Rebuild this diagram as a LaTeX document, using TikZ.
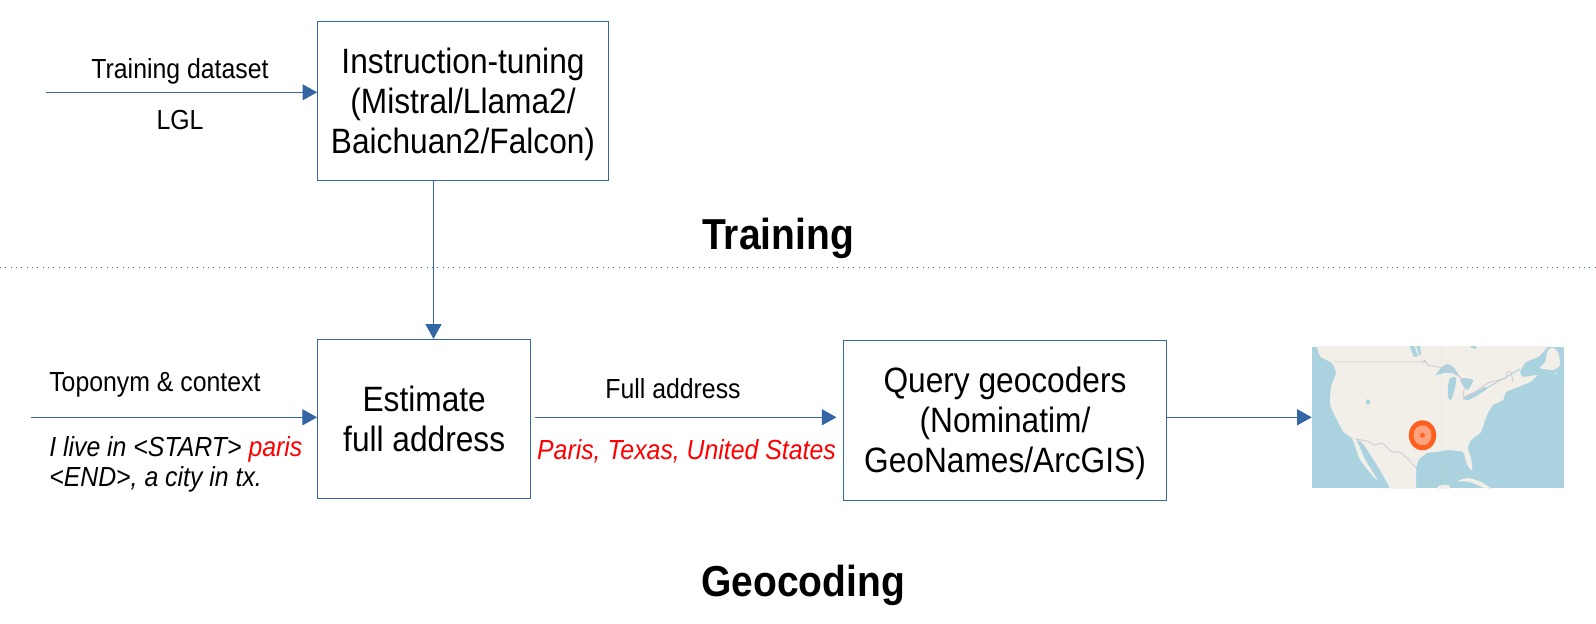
\documentclass[tikz,border=0pt]{standalone}
\usepackage{fontspec}
\setmainfont{Liberation Sans}[FakeStretch=0.9]
\usetikzlibrary{arrows.meta}
\definecolor{lineblue}{HTML}{3465A4}
\definecolor{maproad}{HTML}{D6C6D2}
\definecolor{water}{HTML}{AAD3DF}
\definecolor{land}{HTML}{F2EFE9}
\definecolor{markerout}{HTML}{FF5F1F}
\definecolor{markerin}{HTML}{FFA27E}
\newcommand{\firstlift}[1]{\rule{0pt}{#1}}
\tikzset{
  boxnode/.style={draw=lineblue,line width=0.75pt,fill=white,inner sep=0pt,align=center,
    font=\fontsize{26.4}{30}\selectfont},
  flow/.style={draw=lineblue,line width=0.9pt,-{Triangle[length=11pt,width=12pt]}},
  smalltext/.style={inner sep=0pt,font=\fontsize{20.7}{22.5}\selectfont},
  smallit/.style={inner sep=0pt,align=left,font=\fontsize{20.7}{22.5}\selectfont\itshape},
  heading/.style={inner sep=0pt,font=\fontsize{32.5}{38}\selectfont\bfseries},
  border/.style={draw=maproad,line width=0.6pt},
}
\begin{document}
\begin{tikzpicture}[x=0.75pt,y=-0.75pt]
\useasboundingbox (0,0) rectangle (1596,624);
% separator
\draw[lineblue,line width=0.6pt,dash pattern=on 0.8pt off 3.2pt] (0,267.3) -- (1596,267.3);
% boxes
\node[boxnode,minimum width=218pt,minimum height=119pt] (tune) at (463,101) {\firstlift{23.5pt}Instruction-tuning\\(Mistral/Llama2/\\Baichuan2/Falcon)};
\node[boxnode,minimum width=160pt,minimum height=119.5pt] (est) at (424.2,419) {Estimate\\full address};
\node[boxnode,minimum width=242.25pt,minimum height=120pt] (query) at (1005,420.5) {\firstlift{24.2pt}Query geocoders\\(Nominatim/\\GeoNames/ArcGIS)};
% map
\node[fill=water,draw=none,inner sep=0pt,minimum width=189pt,minimum height=105.75pt] (map) at (1438,417.5) {};
\begin{scope}
\clip (map.south west) rectangle (map.north east);
\fill[land] plot[smooth,tension=0.35] coordinates {(1315,340) (1317,347) (1320.3,356.7) (1332,363) (1336,373) (1331,387) (1330.3,405) (1337,420) (1343.7,432) (1353.7,439)
 (1360,441) (1364,445) (1375,462) (1384,477) (1392,492)}
 -- (1416,492) -- plot[smooth,tension=0.35] coordinates {(1416,468) (1418.7,460) (1427,453) (1438,452) (1448,450) (1463,452) (1466,462) (1470.7,470) (1472.3,468) (1471,458) (1468,448) (1471,440) (1481,432) (1486,417) (1493,405) (1503,400) (1506,392) (1518,387) (1530,382) (1537,375) (1523,377) (1520,372) (1526,362) (1538,357) (1545,350) (1552,342)}
 -- (1315,340) -- cycle;
% Baja
\fill[land] plot[smooth,tension=0.35] coordinates {(1352,439) (1353.7,442) (1360.3,460) (1373.7,477) (1377,479) (1365.3,460) (1358.7,445) (1356,439)} -- cycle;
% Newfoundland
\fill[land] plot[smooth cycle,tension=0.4] coordinates {(1548,350) (1553,348) (1558,352) (1560,365) (1553,370) (1540,368) (1545,362)};
\fill[land] (1556,373) circle[radius=1];
% Hudson Bay and inland water
\fill[water] (1471,344) -- (1476,344) -- (1476,349) -- (1471,348) -- cycle;
\fill[water] (1409,345) -- (1414,345) -- (1418,356) -- (1414,357) -- cycle;
\fill[water] (1416,345) -- (1420,345) -- (1421,355) -- (1419,355) -- cycle;
\fill[water] (1368,402) ellipse[x radius=2,y radius=2.8];
\fill[water] (1424.5,361) circle[radius=1.3];
% Great Lakes
\fill[water] plot[smooth cycle,tension=0.4] coordinates {(1436,375) (1441,368) (1447,364) (1453,367) (1460,377) (1452,373) (1444,373)};
\fill[water] plot[smooth cycle,tension=0.4] coordinates {(1450,378) (1456,378) (1455,388) (1451,400) (1448,397) (1448,387)};
\fill[water] plot[smooth cycle,tension=0.4] coordinates {(1463,378) (1473,380) (1468,390) (1464,387) (1460,380)};
\fill[water] plot[smooth cycle,tension=0.4] coordinates {(1463,398) (1475,392) (1485,387) (1487,389) (1476,396) (1468,400)};
\draw[water,line width=0.7pt] (1487,388) -- (1506,377) -- (1520,369);
% Cuba, Yucatan
\fill[land] plot[smooth cycle,tension=0.4] coordinates {(1458,481) (1468,478) (1481,482) (1493,490) (1482,487) (1470,482)};
\fill[land] plot[smooth,tension=0.4] coordinates {(1438,490) (1438,486) (1448,485) (1451,490)} -- cycle;
% borders
\draw[border] plot[smooth,tension=0.2] coordinates {(1335,362) (1424,362) (1427,365) (1438,367) (1448,369) (1458,375) (1465,383) (1463,397) (1475,392) (1488,383) (1506,378) (1507,372) (1511,372) (1513,382)};
\draw[border] plot[smooth,tension=0.2] coordinates {(1355,439) (1367,441) (1374,445) (1382,443) (1392,452) (1400,452) (1409,460) (1416,468)};
\draw[black!40,opacity=0.08,line width=0.6pt] (1441,347) -- (1441,488);
% marker
\fill[markerout] (1422.5,435.3) ellipse[x radius=13.7,y radius=15];
\fill[markerin] (1422.5,435.3) ellipse[x radius=9,y radius=10];
\fill[markerout] (1422.5,435.3) circle[radius=2.4];
\end{scope}
% free ends
\coordinate (a1) at (46,92.3);
\coordinate (a2) at (31,417.3);
\coordinate (a3) at (535,417.3);
\coordinate (a3e) at (836.5,417.3);
% connectors
\draw[flow] (a1) -- (a1 -| tune.west);
\draw[flow] (tune.south -| 433.5,0) -- (est.north -| 433.5,0);
\draw[flow] (a2) -- (a2 -| est.west);
\draw[flow] (a3) -- (a3e);
\draw[flow] (a3 -| query.east) -- (a3 -| map.west);
% labels
\node[smalltext] (l1) at (180,71) {Training dataset};
\node[smalltext] (l2) at (180,120) {LGL};
\node[smalltext,anchor=west] (l3) at (49,385) {Toponym \& context};
\node[smallit,anchor=north west] (l4) at (49,436.5) {I live in <START> \textcolor{red}{paris}\\<END>, a city in tx.};
\node[smalltext] (l5) at (673,389) {Full address};
\node[smalltext,font=\fontsize{20.7}{22.5}\selectfont\itshape,text=red] (l6) at (686.5,451.5) {Paris, Texas, United States};
\node[heading] (h1) at (778,238) {Training};
\node[heading] (h2) at (803,585) {Geocoding};
\end{tikzpicture}
\end{document}
